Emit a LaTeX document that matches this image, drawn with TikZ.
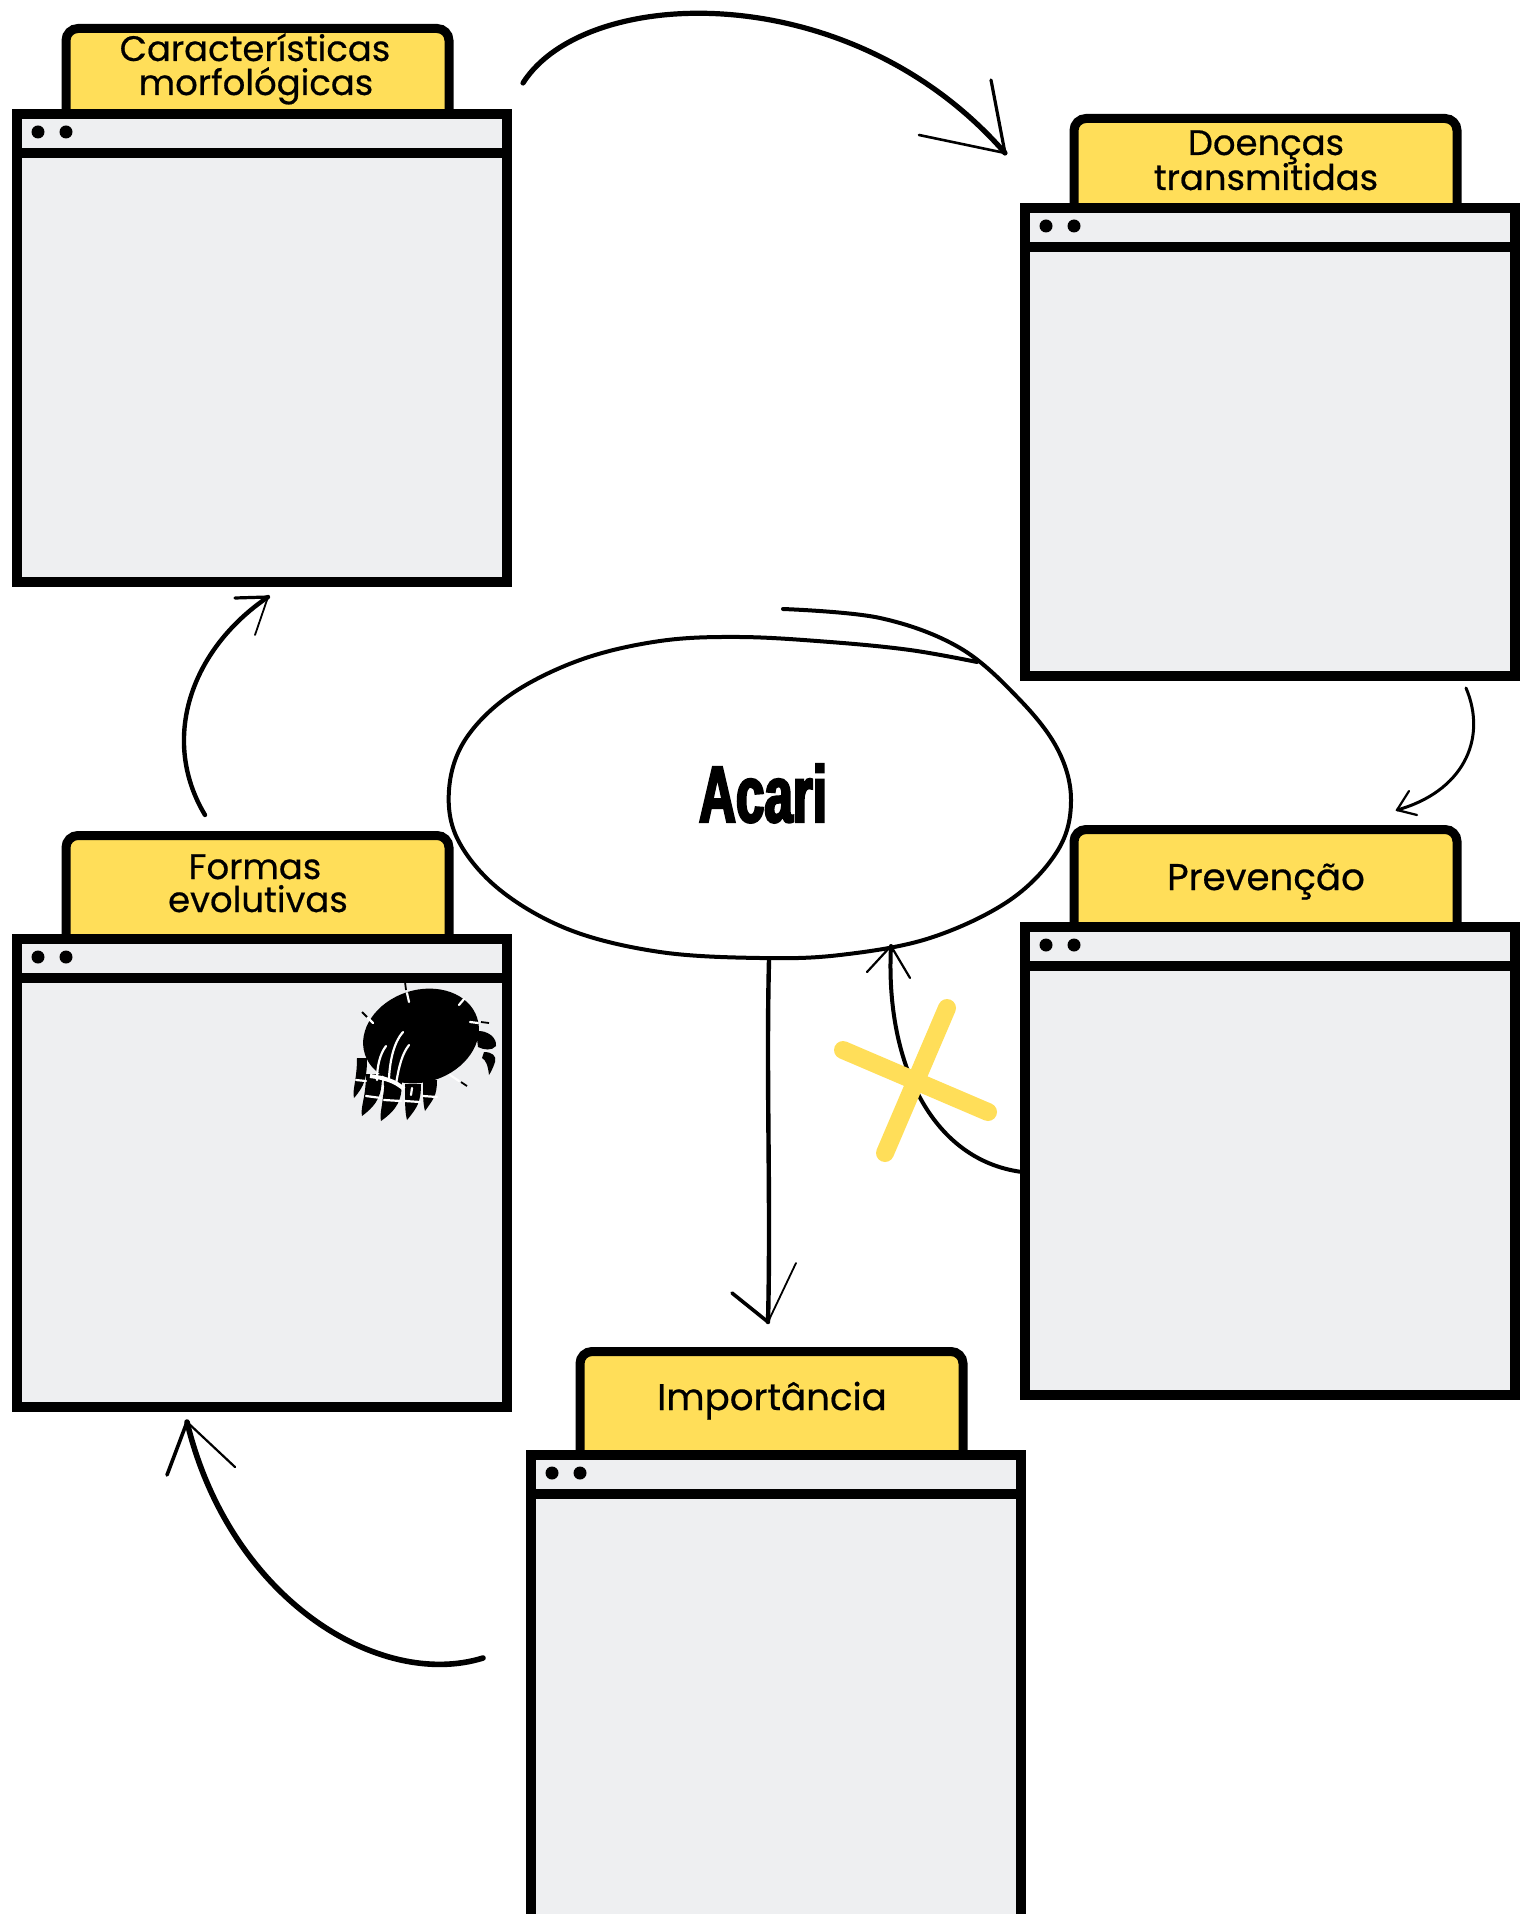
\documentclass[tikz,border=0pt]{standalone}
\usepackage{fontspec}
\setmainfont{Poppins}[FakeBold=0.5]
\newfontfamily\acarifont[FakeStretch=0.64,BoldFeatures={FakeBold=3}]{Liberation Sans}
\definecolor{tabyellow}{HTML}{FFDE59}
\definecolor{panegray}{HTML}{EEEFF1}

\tikzset{
  frame/.style={draw=black, line width=5pt, fill=panegray, inner sep=0pt,
                minimum width=245pt, minimum height=234pt, anchor=north west},
  tabbox/.style={draw=black, line width=4.5pt, fill=tabyellow, rounded corners=6pt},
  bar/.style={line width=5pt},
  labeltwo/.style={font=\fontsize{17.7}{17.7}\selectfont, anchor=base, inner sep=0pt},
  labelone/.style={font=\fontsize{18.6}{18.6}\selectfont, anchor=base, inner sep=0pt},
  sketch/.style={draw=black, line width=2.2pt, line cap=round, line join=round},
  thinsketch/.style={draw=black, line width=1.5pt, line cap=round, line join=round},
  barb/.style={draw=black, line width=1.1pt, line cap=round},
  crossbar/.style={draw=tabyellow, line width=9pt, line cap=round},
  mitewhite/.style={draw=white, line width=1.1pt, line cap=round},
}

% window pane: #1 name, #2 left, #3 top, #4 top of the tab
\newcommand\pane[4]{%
  \draw[tabbox] (#2+59,#4+4.5) rectangle (#2+442,#3+30);
  \node[frame] (#1) at (#2+5,#3+5) {};
  \draw[bar] (#2+5,#3+49) -- (#2+495,#3+49);
  \fill (#2+31,#3+28) circle[radius=6.5] (#2+59,#3+28) circle[radius=6.5];
}

% one curved claw of the mite: base centre, tip, half width
\newcommand\mleg[5]{%
  \fill (#1-#5,#2) .. controls (#1-#5,#2+0.55*#4-0.55*#2) and (#3-2,#4-8) .. (#3,#4)
        .. controls (#1+0.5*#5,#4-12) and (#1+#5,#2+0.5*#4-0.5*#2) .. (#1+#5,#2) -- cycle;
}

\begin{document}
\begin{tikzpicture}[x=0.5pt,y=-0.5pt]
\useasboundingbox (0,0) rectangle (1523,1914);
\clip (0,0) rectangle (1523,1914);

% ---- the five panes ----
\pane{morf}{7}{104}{24}
\pane{doen}{1015}{198}{114}
\pane{form}{7}{929}{831}
\pane{prev}{1015}{917}{825}
\pane{impo}{521}{1445}{1347}

\node[labeltwo] (morfA) at (255,61) {Características};
\node[labeltwo] (morfB) at (256,95) {morfológicas};
\node[labeltwo] (doenA) at (1266,155) {Doenças};
\node[labeltwo] (doenB) at (1266,190) {transmitidas};
\node[labeltwo] (formA) at (255,879) {Formas};
\node[labeltwo] (formB) at (258,912) {evolutivas};
\node[labelone] (prevA) at (1266,890) {Prevenção};
\node[labelone] (impoA) at (772,1410) {Importância};

% ---- central loop ----
\draw[sketch, line width=2pt] plot[smooth, tension=0.6] coordinates {
  (783,609) (880,618) (960,648) (1020,700) (1058,750) (1071,800)
  (1058,850) (1010,900) (930,938) (840,955) (760,958) (660,952)
  (570,930) (500,890) (458,840) (449,790) (465,740) (510,695)
  (580,660) (660,641) (740,637) (830,642) (910,650) (977,662)};
\node[font=\acarifont\bfseries\fontsize{40}{40}\selectfont, anchor=base, inner sep=0pt]
  (core) at (763,822) {Acari};

% ---- connector end points ----
\coordinate (a1s) at (523,83);   \coordinate (a1t) at (1005,153);
\coordinate (a2s) at (1466,688); \coordinate (a2t) at (1397,810);
\coordinate (a3s) at (1022,1172);\coordinate (a3t) at (891,946);
\coordinate (a4s) at (769,960);  \coordinate (a4t) at (768,1322);
\coordinate (a5s) at (483,1658); \coordinate (a5t) at (187,1422);
\coordinate (a6s) at (205,815);  \coordinate (a6t) at (268,597);

% morphology -> diseases
\draw[sketch, line width=2.6pt] (a1s) .. controls (585,-15) and (850,-25) .. (a1t);
\draw[barb, line width=1.6pt] (a1t) -- (991,80);
\draw[barb, line width=1.3pt] (a1t) -- (919,135);

% diseases -> prevention
\draw[thinsketch] (a2s) .. controls (1488,740) and (1462,792) .. (a2t);
\draw[barb] (a2t) -- (1409,791);
\draw[barb] (a2t) -- (1417,815);

% prevention -> centre (crossed out)
\draw[sketch, line width=2pt] (a3s) .. controls (930,1160) and (885,1060) .. (a3t);
\draw[barb] (a3t) -- (867,972);
\draw[barb] (a3t) -- (910,978);
\draw[crossbar] (843,1050) -- (988,1112);
\draw[crossbar] (947,1008) -- (885,1153);

% centre -> importance
\draw[sketch, line width=2.2pt] (a4s) .. controls (766,1080) and (771,1200) .. (a4t);
\draw[barb, line width=1.8pt] (a4t) -- (732,1293);
\draw[barb, line width=0.9pt] (a4t) -- (796,1263);

% importance -> life stages
\draw[sketch, line width=2.8pt] (a5s) .. controls (380,1690) and (230,1600) .. (a5t);
\draw[barb, line width=1.8pt] (a5t) -- (167,1475);
\draw[barb] (a5t) -- (235,1467);

% life stages -> morphology
\draw[sketch] (a6s) .. controls (160,740) and (190,650) .. (a6t);
\draw[barb, line width=1.6pt] (a6t) -- (235,598);
\draw[barb, line width=0.9pt] (a6t) -- (255,635);

% ---- mite silhouette ----
\fill[rotate around={18:(421,1036)}] (421,1036) ellipse [x radius=59, y radius=46];
% front appendages
\fill (476,1031) .. controls (488,1030) and (497,1038) .. (496,1046)
      .. controls (492,1051) and (484,1050) .. (478,1047) -- cycle;
\fill (484,1052) .. controls (492,1052) and (497,1056) .. (495,1062)
      .. controls (493,1068) and (491,1072) .. (489,1075)
      .. controls (488,1066) and (486,1060) .. (482,1058) -- cycle;
% legs
\mleg{362}{1058}{354}{1098}{5}
\mleg{374}{1074}{362}{1116}{8}
\mleg{393}{1080}{381}{1121}{9}
\mleg{413}{1084}{407}{1120}{8}
\mleg{430}{1080}{425}{1111}{7}
% leg joints
\draw[mitewhite] (356,1080) -- (366,1081);
\draw[mitewhite] (366,1096) -- (381,1098);
\draw[mitewhite] (384,1100) -- (401,1101);
\draw[mitewhite] (405,1101) -- (420,1102);
\draw[mitewhite] (423,1096) -- (437,1097);
\draw[mitewhite] (383,1086) -- (382,1094);
\draw[mitewhite] (412,1088) -- (411,1095);
% palps and band
\draw[mitewhite] (377,1080) .. controls (377,1066) and (380,1054) .. (386,1046);
\draw[mitewhite] (389,1078) .. controls (390,1060) and (394,1042) .. (403,1032);
\draw[mitewhite] (396,1084) .. controls (399,1066) and (402,1054) .. (409,1045);
\draw[draw=white, line width=2pt] (370,1076) .. controls (385,1078) and (395,1081) .. (404,1089);
% notches along the body edge
\draw[mitewhite] (407,993) -- (409,1002);
\draw[line width=0.9pt] (405,982) -- (406,990);
\draw[mitewhite] (459,1005) -- (464,999);
\draw[mitewhite] (470,1022) -- (478,1023);
\draw[line width=0.9pt] (481,1022) -- (489,1023);
\draw[mitewhite] (450,1075) -- (459,1081);
\draw[line width=0.9pt] (461,1082) -- (467,1086);
\draw[line width=0.9pt] (362,1012) -- (367,1017);
\draw[mitewhite] (368,1018) -- (373,1023);
\end{tikzpicture}
\end{document}
